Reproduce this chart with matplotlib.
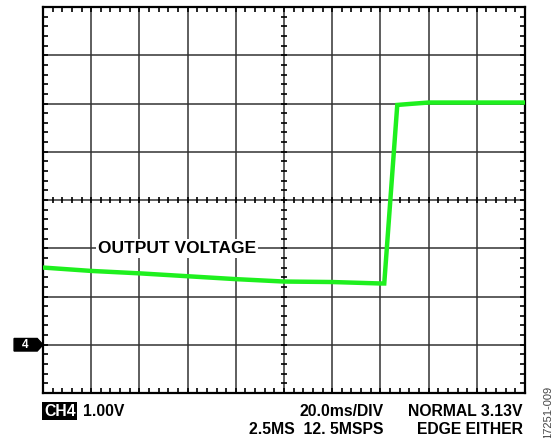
import numpy as np
import matplotlib
matplotlib.use("Agg")
import matplotlib.pyplot as plt
from matplotlib.patches import Polygon

# trace, in scope divisions (x: 0..10, y: 0..8 from bottom)
trace_x = [0.0, 1.0, 2.0, 3.0, 4.0, 5.0, 6.0, 7.0, 7.08, 7.35, 7.6, 8.0, 9.0, 10.0]
trace_y = [2.60, 2.53, 2.48, 2.42, 2.36, 2.31, 2.30, 2.27, 2.27, 5.97, 5.99, 6.02, 6.02, 6.02]

ch4_ground = 1.0   # marker level, divisions
label_text = "OUTPUT VOLTAGE"
label_x, label_y = 2.78, 3.0

plt.rcParams['font.family'] = ['Liberation Sans', 'DejaVu Sans']
plt.rcParams['font.weight'] = 'bold'

W, H = 559, 438
fig = plt.figure(figsize=(W / 100, H / 100), dpi=100)
ax = fig.add_axes([43 / W, (H - 393) / H, 482 / W, 386 / H])

ax.set_xlim(0, 10)
ax.set_ylim(0, 8)

# grid
for gx in range(1, 10):
    ax.axvline(gx, color='#333333', lw=1.1, zorder=1)
for gy in range(1, 8):
    ax.axhline(gy, color='#333333', lw=1.1, zorder=1)

for s in ax.spines.values():
    s.set_linewidth(1.6)
    s.set_color('black')

# minor ticks on the border
ax.set_xticks(np.arange(0, 10.01, 0.2), minor=True)
ax.set_yticks(np.arange(0, 8.01, 0.2), minor=True)
ax.set_xticks([])
ax.set_yticks([])
ax.tick_params(which='minor', direction='in', length=3.5, width=1.2,
               top=True, bottom=True, left=True, right=True,
               labelbottom=False, labelleft=False)

# ticks on the centre cross
cx = np.arange(0, 10.01, 0.2)
cy = np.arange(0, 8.01, 0.2)
ax.plot(cx, np.full_like(cx, 4.0), ls='', marker='|', ms=5, mew=1.2, color='black', zorder=2)
ax.plot(np.full_like(cy, 5.0), cy, ls='', marker='_', ms=5, mew=1.2, color='black', zorder=2)

# trace
ax.plot(trace_x, trace_y, color='#1ef01e', lw=3.2, solid_joinstyle='miter', zorder=3)

ax.text(label_x, label_y, label_text, ha='center', va='center', fontsize=12.5,
        fontweight='bold', zorder=4,
        bbox=dict(facecolor='white', edgecolor='none', pad=1.5))

# channel marker
mk = Polygon([(-0.60, ch4_ground + 0.13), (-0.12, ch4_ground + 0.13), (0.0, ch4_ground),
              (-0.12, ch4_ground - 0.13), (-0.60, ch4_ground - 0.13)],
             closed=True, facecolor='black', edgecolor='black', clip_on=False, zorder=5)
ax.add_patch(mk)
ax.text(-0.37, ch4_ground, "4", color='white', ha='center', va='center',
        fontsize=8.5, fontweight='bold', clip_on=False, zorder=6)

# bottom readout
def fx(px):
    return px / W

def fy(py):
    return 1 - py / H

fs = 11.3
fig.text(fx(44), fy(411), "CH4", color='white', fontsize=fs, fontweight='bold',
         ha='left', va='center',
         bbox=dict(facecolor='black', edgecolor='none', pad=1.2))
fig.text(fx(83), fy(411), "1.00V", fontsize=fs, fontweight='bold', ha='left', va='center')
fig.text(fx(384), fy(411), "20.0ms/DIV", fontsize=fs, fontweight='bold', ha='right', va='center')
fig.text(fx(384), fy(430), "2.5MS  12. 5MSPS", fontsize=fs, fontweight='bold', ha='right', va='center')
fig.text(fx(523), fy(411), "NORMAL 3.13V", fontsize=fs, fontweight='bold', ha='right', va='center')
fig.text(fx(523), fy(430), "EDGE EITHER", fontsize=fs, fontweight='bold', ha='right', va='center')
fig.text(fx(548), fy(412), "17251-009", fontsize=8, fontweight='normal', color='#444444',
         rotation=90, ha='center', va='center')

fig.savefig("out.png", dpi=100)
